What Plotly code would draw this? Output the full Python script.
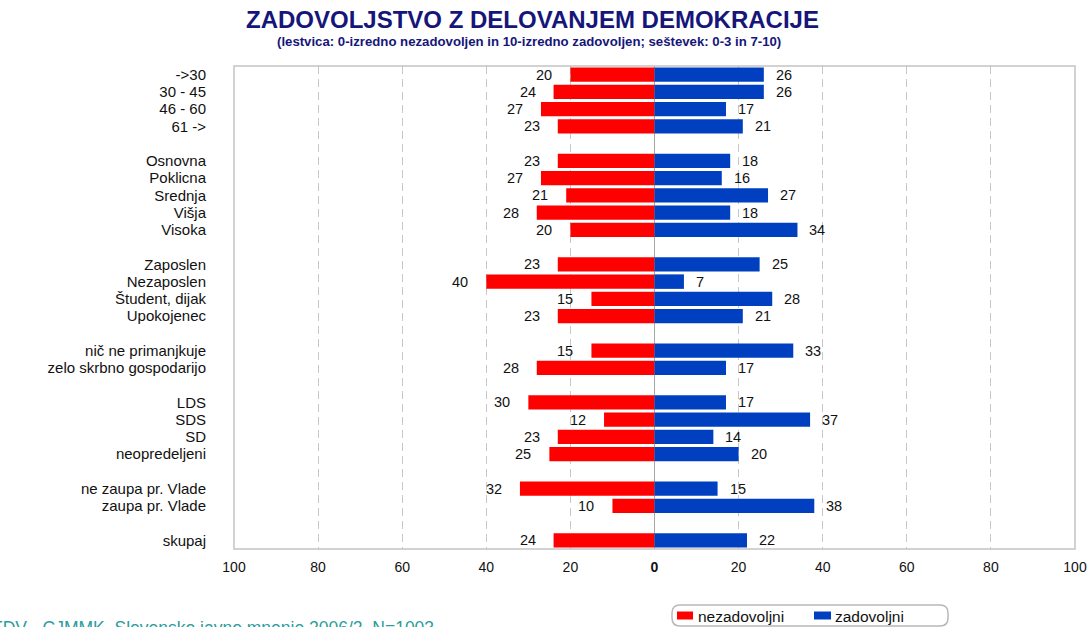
import plotly.graph_objects as go

# ---- data ----
groups = [
    ["->30", "30 - 45", "46 - 60", "61 ->"],
    ["Osnovna", "Poklicna", "Srednja", "Višja", "Visoka"],
    ["Zaposlen", "Nezaposlen", "Študent, dijak", "Upokojenec"],
    ["nič ne primanjkuje", "zelo skrbno gospodarijo"],
    ["LDS", "SDS", "SD", "neopredeljeni"],
    ["ne zaupa pr. Vlade", "zaupa pr. Vlade"],
    ["skupaj"],
]
nezadovoljni = [20, 24, 27, 23, 23, 27, 21, 28, 20, 23, 40, 15, 23, 15, 28, 30, 12, 23, 25, 32, 10, 24]
zadovoljni = [26, 26, 17, 21, 18, 16, 27, 18, 34, 25, 7, 28, 21, 33, 17, 17, 37, 14, 20, 15, 38, 22]
xtick_vals = [-100, -80, -60, -40, -20, 0, 20, 40, 60, 80, 100]
xtick_text = ["100", "80", "60", "40", "20", "<b>0</b>", "20", "40", "60", "80", "100"]
series_names = ["nezadovoljni", "zadovoljni"]

# positions with blank spacer rows between groups
labels, ypos = [], []
pos = 0
for gi, g in enumerate(groups):
    for c in g:
        labels.append(c)
        ypos.append(pos)
        pos += 1
    if gi < len(groups) - 1:
        pos += 1
nrows = pos

RED = "#FF0000"
BLUE = "#0040C0"
NAVY = "#16167A"
FONT = "Liberation Sans, Arial, sans-serif"

W, H = 1087, 627
ML, MR, MT, MB = 234, 12, 66, 78
PW, PH = W - ML - MR, H - MT - MB


def px_x(p):  # page pixel -> paper x
    return (p - ML) / PW


def px_y(p):  # page pixel -> paper y
    return (H - MB - p) / PH


fig = go.Figure()
fig.add_trace(go.Bar(y=ypos, x=[-v for v in nezadovoljni], orientation="h", name=series_names[0],
                     marker=dict(color=RED, line=dict(width=0)), width=0.84,
                     hoverinfo="skip", showlegend=False))
fig.add_trace(go.Bar(y=ypos, x=zadovoljni, orientation="h", name=series_names[1],
                     marker=dict(color=BLUE, line=dict(width=0)), width=0.84,
                     hoverinfo="skip", showlegend=False))

for y, v in zip(ypos, nezadovoljni):
    fig.add_annotation(x=-v, y=y, text=str(v), xanchor="right", yanchor="middle",
                       xshift=-16, showarrow=False, font=dict(size=14.5, color="#111", family=FONT))
for y, v in zip(ypos, zadovoljni):
    fig.add_annotation(x=v, y=y, text=str(v), xanchor="left", yanchor="middle",
                       xshift=10, showarrow=False, font=dict(size=14.5, color="#111", family=FONT))

# plot-area border
fig.add_shape(type="rect", xref="paper", yref="paper", x0=0, x1=1, y0=0, y1=1,
              line=dict(color="#C4C4C4", width=1.5), layer="above")

# title & subtitle
fig.add_annotation(xref="paper", yref="paper", x=px_x(532), y=px_y(20), xanchor="center", yanchor="middle",
                   text="<b>ZADOVOLJSTVO Z DELOVANJEM DEMOKRACIJE</b>", showarrow=False,
                   font=dict(size=24, color=NAVY, family=FONT))
fig.add_annotation(xref="paper", yref="paper", x=px_x(529), y=px_y(42), xanchor="center", yanchor="middle",
                   text="<b>(lestvica: 0-izredno nezadovoljen in 10-izredno zadovoljen; seštevek: 0-3 in 7-10)</b>",
                   showarrow=False, font=dict(size=13.2, color=NAVY, family=FONT))
# source line (partly cut at page edges, as in the reference)
fig.add_annotation(xref="paper", yref="paper", x=px_x(-10), y=px_y(616), xanchor="left", yanchor="top",
                   text="FDV - CJMMK, Slovensko javno mnenje 2006/2, N=1003", showarrow=False,
                   font=dict(size=17.5, color="#2A9D9D", family=FONT))

# custom legend with rounded border
lx0, lx1, ly0, ly1, r = 672, 948, 605, 626, 8
path = (f"M {px_x(lx0 + r)} {px_y(ly0)} L {px_x(lx1 - r)} {px_y(ly0)} "
        f"Q {px_x(lx1)} {px_y(ly0)} {px_x(lx1)} {px_y(ly0 + r)} "
        f"L {px_x(lx1)} {px_y(ly1 - r)} Q {px_x(lx1)} {px_y(ly1)} {px_x(lx1 - r)} {px_y(ly1)} "
        f"L {px_x(lx0 + r)} {px_y(ly1)} Q {px_x(lx0)} {px_y(ly1)} {px_x(lx0)} {px_y(ly1 - r)} "
        f"L {px_x(lx0)} {px_y(ly0 + r)} Q {px_x(lx0)} {px_y(ly0)} {px_x(lx0 + r)} {px_y(ly0)} Z")
fig.add_shape(type="path", xref="paper", yref="paper", path=path,
              line=dict(color="#B8B8B8", width=1.5), fillcolor="white")
for (sx0, sx1, tx), col, name in zip([(677, 693, 696), (814, 831, 833)], [RED, BLUE], series_names):
    fig.add_shape(type="rect", xref="paper", yref="paper", x0=px_x(sx0), x1=px_x(sx1),
                  y0=px_y(619.5), y1=px_y(611.5), fillcolor=col, line=dict(width=0))
    fig.add_annotation(xref="paper", yref="paper", x=px_x(tx), y=px_y(616), xanchor="left", yanchor="middle",
                       text=name, showarrow=False, font=dict(size=15.5, color="#111", family=FONT))

fig.update_layout(
    width=W, height=H,
    margin=dict(l=ML, r=MR, t=MT, b=MB, autoexpand=False),
    paper_bgcolor="white", plot_bgcolor="white",
    barmode="overlay",
    showlegend=False,
    hovermode=False,
    font=dict(family=FONT),
)
fig.update_xaxes(range=[-100, 100], tickvals=xtick_vals, ticktext=xtick_text,
                 showgrid=True, gridcolor="#C8C8C8", griddash="8px,5px", gridwidth=1,
                 zeroline=True, zerolinecolor="#A8A8A8", zerolinewidth=1,
                 showline=False,
                 tickfont=dict(size=14, color="#111", family=FONT), ticks="", ticklabelstandoff=8,
                 fixedrange=True)
fig.update_yaxes(range=[nrows - 0.5, -0.5], tickvals=ypos, ticktext=labels,
                 showgrid=False, zeroline=False, showline=False,
                 tickfont=dict(size=15, color="#111", family=FONT), ticks="", ticklabelstandoff=27,
                 fixedrange=True)

fig.write_html("out.html", config={"displayModeBar": False, "staticPlot": True},
               post_script="document.body.style.margin='0';document.body.style.overflow='hidden';")
